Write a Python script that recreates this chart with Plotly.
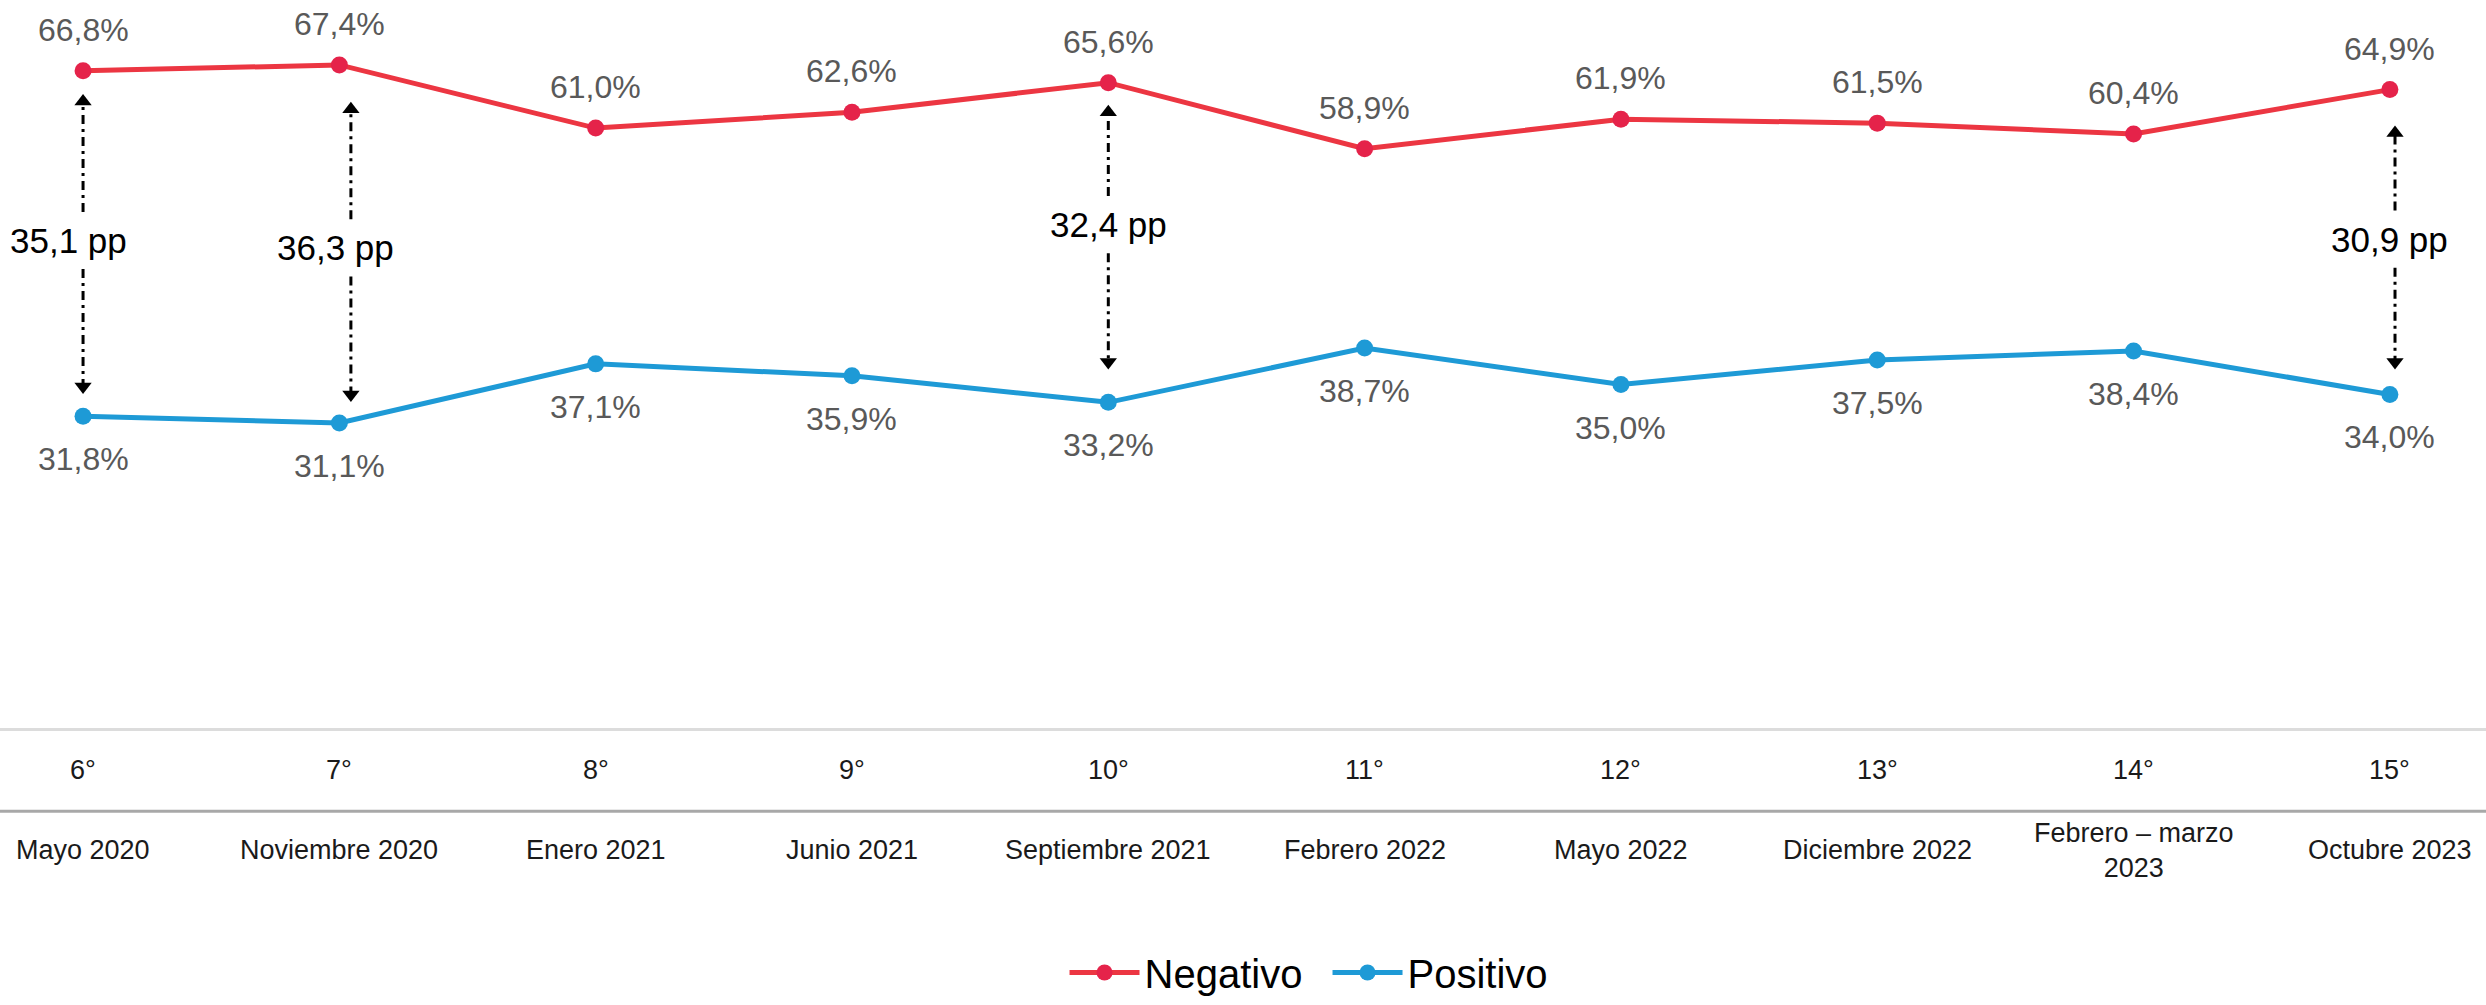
import plotly.graph_objects as go

# Survey rounds and their fieldwork periods
ordinales = ["6°", "7°", "8°", "9°", "10°", "11°", "12°", "13°", "14°", "15°"]
periodos = ["Mayo 2020", "Noviembre 2020", "Enero 2021", "Junio 2021", "Septiembre 2021",
            "Febrero 2022", "Mayo 2022", "Diciembre 2022", "Febrero – marzo<br>2023", "Octubre 2023"]

# Share of responses (%)
negativo = [66.8, 67.4, 61.0, 62.6, 65.6, 58.9, 61.9, 61.5, 60.4, 64.9]
positivo = [31.8, 31.1, 37.1, 35.9, 33.2, 38.7, 35.0, 37.5, 38.4, 34.0]

# Gap annotations (round index, label)
brecha_idx = [0, 1, 4, 9]
brecha_txt = ["35,1 pp", "36,3 pp", "32,4 pp", "30,9 pp"]

# Layout tweaks for each gap arrow: label nudge (px) and arrow-tip clearance from the points
brecha_style = {
    0: dict(label_dx=-15, label_dy=3, arrow_dx=0.0, top_off=3.1, bot_off=3.0),
    1: dict(label_dx=-4, label_dy=-4, arrow_dx=0.045, top_off=4.5, bot_off=2.9),
    4: dict(label_dx=0, label_dy=18, arrow_dx=0.0, top_off=3.0, bot_off=4.1),
    9: dict(label_dx=0, label_dy=3, arrow_dx=0.02, top_off=4.4, bot_off=3.3),
}

RED_LINE = "#EC3642"
RED_MARK = "#E5234A"
BLUE = "#1E9AD6"
FONT = "Liberation Sans, Arial, sans-serif"
PX_PER_UNIT = 9.886  # vertical pixels per percentage point at this figure size

def fmt(v):
    return f"{v:.1f}".replace(".", ",") + "%"

x = list(range(len(ordinales)))

fig = go.Figure()

fig.add_trace(go.Scatter(
    x=x, y=negativo, name="Negativo", mode="lines+markers",
    line=dict(color=RED_LINE, width=5),
    marker=dict(color=RED_MARK, size=17),
))
fig.add_trace(go.Scatter(
    x=x, y=positivo, name="Positivo", mode="lines+markers",
    line=dict(color=BLUE, width=5),
    marker=dict(color=BLUE, size=17),
))

annotations = []
# Value labels
for i in x:
    annotations.append(dict(x=i, y=negativo[i], text=fmt(negativo[i]), showarrow=False,
                            yshift=41, font=dict(size=32, color="#595959", family=FONT)))
    annotations.append(dict(x=i, y=positivo[i], text=fmt(positivo[i]), showarrow=False,
                            yshift=-43, font=dict(size=32, color="#595959", family=FONT)))

# Gap arrows: dash-dot shafts broken around the label, with arrowheads at both ends
text_gap = 2.9
for k, i in enumerate(brecha_idx):
    st = brecha_style[i]
    xa = i + st["arrow_dx"]
    top = negativo[i] - st["top_off"]
    bot = positivo[i] + st["bot_off"]
    mid = (negativo[i] + positivo[i]) / 2 + st["label_dy"] / PX_PER_UNIT
    for y0, y1 in ((mid + text_gap, top), (mid - text_gap, bot)):
        fig.add_trace(go.Scatter(
            x=[xa, xa], y=[y0, y1], mode="lines", showlegend=False, hoverinfo="skip",
            line=dict(color="black", width=3, dash="9px,5px,3px,5px"),
        ))
    fig.add_trace(go.Scatter(
        x=[xa, xa], y=[top, bot], mode="markers", showlegend=False, hoverinfo="skip",
        marker=dict(symbol=["triangle-up", "triangle-down"], size=15, color="black"),
    ))
    annotations.append(dict(x=i, y=mid, text=brecha_txt[k], showarrow=False,
                            xshift=st["label_dx"],
                            font=dict(size=35, color="black", family=FONT)))

# Round numbers and period names below the chart
for i in x:
    annotations.append(dict(x=i, y=-4.1, text=ordinales[i], showarrow=False,
                            font=dict(size=27, color="#1a1a1a", family=FONT)))
    annotations.append(dict(x=i, y=-12.2, text=periodos[i], showarrow=False,
                            font=dict(size=27, color="#1a1a1a", family=FONT)))

fig.add_shape(type="line", xref="paper", x0=0, x1=1, yref="y", y0=-8.25, y1=-8.25,
              line=dict(color="#a8a8a8", width=3), layer="below")

fig.update_layout(
    width=2486, height=1005,
    margin=dict(l=0, r=0, t=0, b=0),
    paper_bgcolor="white", plot_bgcolor="white",
    showlegend=True,
    legend=dict(orientation="h", x=0.534, xanchor="center", y=0.03, yanchor="middle",
                font=dict(size=40, color="black", family=FONT), itemwidth=70,
                entrywidth=178, entrywidthmode="pixels",
                bgcolor="rgba(0,0,0,0)"),
    xaxis=dict(range=[-0.324, 9.375], visible=False, showgrid=False, zeroline=False),
    yaxis=dict(range=[-27.68, 73.98], showgrid=False, showticklabels=False,
               zeroline=True, zerolinecolor="#dcdcdc", zerolinewidth=3),
    annotations=annotations,
)

fig.write_html("out.html")
